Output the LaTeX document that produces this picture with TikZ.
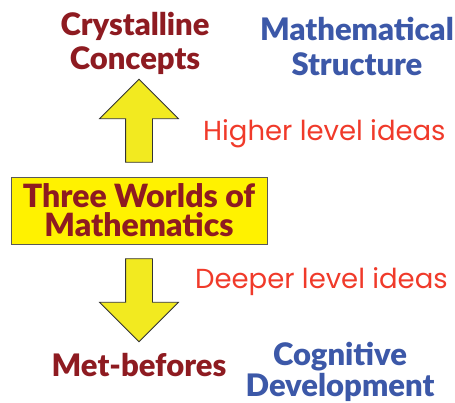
\documentclass[tikz,border=0pt]{standalone}
\usepackage{fontspec}
\setmainfont{Lato}[BoldFont={Lato Black}]
\newfontfamily\ideafont{Poppins}
\usepackage{tikz}
\usetikzlibrary{shapes.arrows}
\definecolor{CrysRed}{RGB}{142,27,33}
\definecolor{StructBlue}{RGB}{60,88,168}
\definecolor{IdeaRed}{RGB}{240,58,42}
\definecolor{BoxYellow}{RGB}{255,242,0}
\definecolor{ArrowYellow}{RGB}{242,234,32}
\tikzset{
  crys/.style={text=CrysRed, font=\fontsize{31}{34}\selectfont\bfseries, align=center, inner sep=0pt},
  struct/.style={text=StructBlue, font=\fontsize{31}{35}\selectfont\bfseries, align=center, inner sep=0pt},
  idea/.style={text=IdeaRed, font=\fontsize{27.5}{30}\ideafont, anchor=west, inner sep=0pt},
  world/.style={draw=black!65, fill=BoxYellow, text=CrysRed, font=\fontsize{32}{29}\selectfont\bfseries,
                align=center, minimum width=256pt, minimum height=67pt, inner sep=0pt},
  bigarrow/.style={single arrow, draw=black!80, fill=ArrowYellow, line width=0.8pt, minimum height=83pt,
                   minimum width=78pt, inner xsep=0pt, inner ysep=13pt, single arrow head extend=26pt,
                   single arrow head indent=0pt}
}

\begin{document}
\begin{tikzpicture}[x=1pt,y=1pt]
\useasboundingbox (0,0) rectangle (455,403);
\node[crys] (cc) at (135,360) {Crystalline\\Concepts};
\node[struct] (ms) at (357,357) {Mathematical\\Structure};
\node[world] (tw) at (139,192.5) {Three Worlds of\\Mathematics};
\node[bigarrow, rotate=90] (up) at (139,275.5) {};
\node[bigarrow, rotate=-90] (down) at (139,109.5) {};
\node[idea] (hi) at (203,269) {Higher level ideas};
\node[idea] (lo) at (195,121) {Deeper level ideas};
\node[crys] (mb) at (139,38) {Met-befores};
\node[struct] (cd) at (340,31) {Cognitive\\[-4pt]Development};
\end{tikzpicture}
\end{document}
